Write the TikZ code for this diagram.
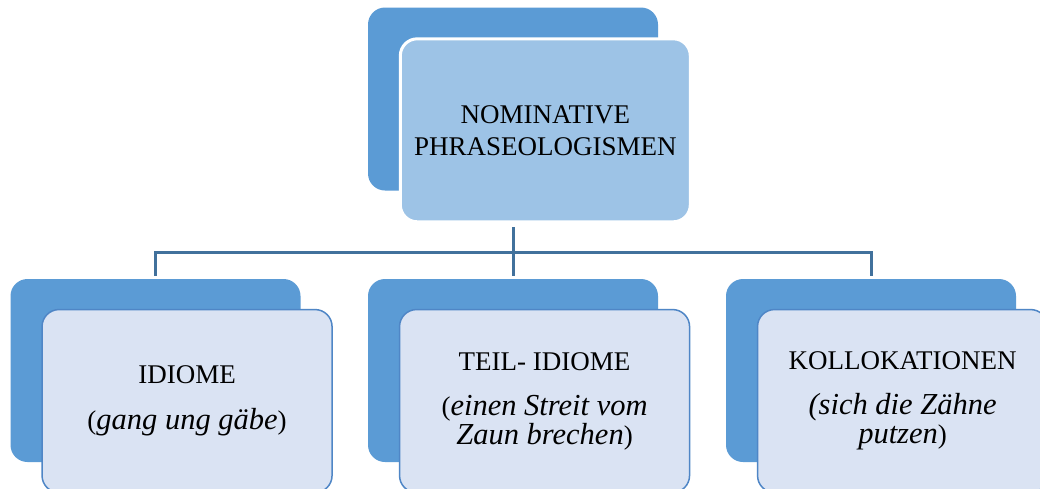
\documentclass[tikz,border=0pt]{standalone}
\usepackage{fontspec}
\setmainfont{Liberation Serif}
\usetikzlibrary{positioning}
\definecolor{backblue}{HTML}{5B9BD5}
\definecolor{topblue}{HTML}{9DC3E6}
\definecolor{paleblue}{HTML}{DAE3F3}
\definecolor{edgeblue}{HTML}{4F86C6}
\definecolor{linkblue}{HTML}{41719C}
\newcommand{\itl}[1]{{\fontsize{30.5}{29}\selectfont\itshape #1}}
\begin{document}
\begin{tikzpicture}[x=1pt, y=-1pt, line join=round, line cap=round,
	backbox/.style={fill=backblue, rounded corners=17pt, minimum width=290pt, minimum height=183pt, inner sep=0pt},
	frontbox/.style={rounded corners=17pt, minimum width=290pt, minimum height=183pt, inner sep=0pt, align=center, anchor=north west, font=\fontsize{27}{29}\selectfont},
	link/.style={draw=linkblue, line width=3pt, line join=miter, line cap=butt}]
		\useasboundingbox (0,0) rectangle (1040,488);
		\clip (0,0) rectangle (1040,488);
		\fill[white] (0,0) rectangle (1040,488);
		% top box
		\node[backbox] (nomback) at (513,99) {};
		\node[frontbox, fill=topblue, draw=white, line width=3pt, font=\fontsize{27}{32}\selectfont] (nom) at ([shift={(31,30)}]nomback.north west) {NOMINATIVE\\PHRASEOLOGISMEN};
		% bottom boxes
		\foreach \nm/\x/\txt in {idi/155.5/{IDIOME\\[17pt](\itl{gang ung gäbe})},
			teil/513/{TEIL- IDIOME\\[16pt](\itl{einen Streit vom}\\\itl{Zaun brechen})},
			koll/871/{KOLLOKATIONEN\\[16pt]\itl{(sich die Zähne}\\\itl{putzen})}} {
			\node[backbox] (\nm-back) at (\x,370.5) {};
			\node[frontbox, fill=paleblue, draw=edgeblue, line width=1.5pt] (\nm) at ([shift={(31,30)}]\nm-back.north west) {\txt};
		}
		% connectors
		\path (nomback |- nom.south) ++(0,4) coordinate (stem) ++(0,25) coordinate (fork);
		\draw[link] (stem) -- ([yshift=3pt]teil-back.north);
		\draw[link] ([yshift=3pt]idi-back.north) |- (fork) -| ([yshift=3pt]koll-back.north);
\end{tikzpicture}
\end{document}
